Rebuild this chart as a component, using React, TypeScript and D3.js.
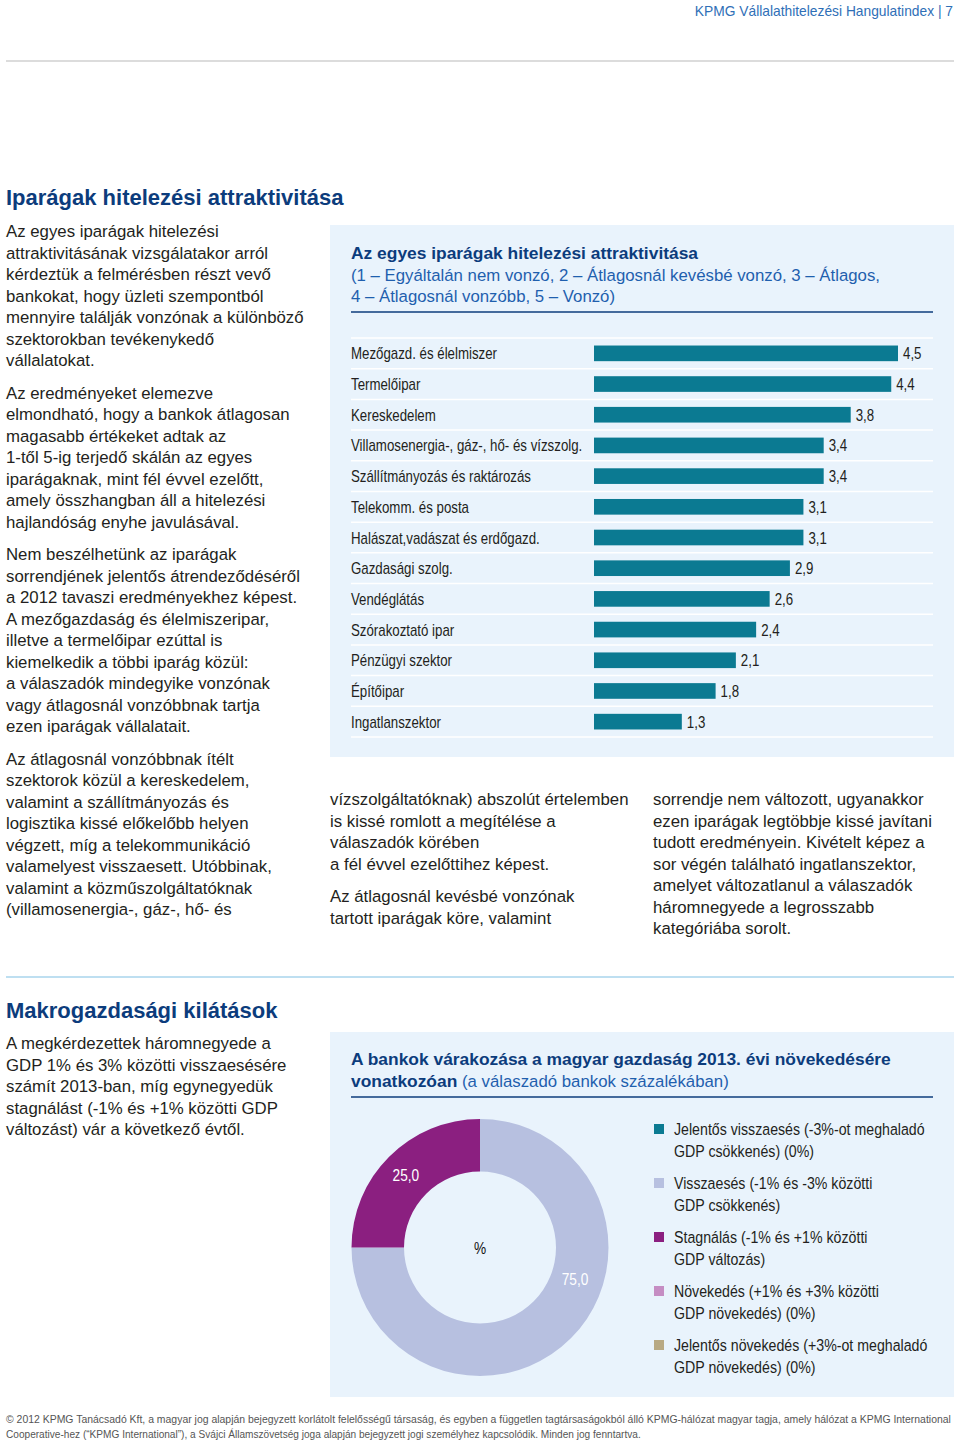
import React from "react";
import * as d3 from "d3";

// ---------- DATA ----------
const headerText = "KPMG Vállalathitelezési Hangulatindex | 7";

const industries = [
  "Mezőgazd. és élelmiszer",
  "Termelőipar",
  "Kereskedelem",
  "Villamosenergia-, gáz-, hő- és vízszolg.",
  "Szállítmányozás és raktározás",
  "Telekomm. és posta",
  "Halászat,vadászat és erdőgazd.",
  "Gazdasági szolg.",
  "Vendéglátás",
  "Szórakoztató ipar",
  "Pénzügyi szektor",
  "Építőipar",
  "Ingatlanszektor",
];
const scores = [4.5, 4.4, 3.8, 3.4, 3.4, 3.1, 3.1, 2.9, 2.6, 2.4, 2.1, 1.8, 1.3];

const chart1Title = "Az egyes iparágak hitelezési attraktivitása";
const chart1Subtitle = [
  "(1 – Egyáltalán nem vonzó, 2 – Átlagosnál kevésbé vonzó, 3 – Átlagos,",
  "4 – Átlagosnál vonzóbb,  5 – Vonzó)",
];

const growthLabels = [
  ["Jelentős visszaesés (-3%-ot meghaladó", "GDP csökkenés) (0%)"],
  ["Visszaesés (-1% és -3% közötti", "GDP csökkenés)"],
  ["Stagnálás (-1% és +1% közötti", "GDP változás)"],
  ["Növekedés (+1% és +3% közötti", "GDP növekedés) (0%)"],
  ["Jelentős növekedés (+3%-ot meghaladó", "GDP növekedés) (0%)"],
];
const growthShares = [0, 75, 25, 0, 0];
const growthColors = ["#0b7a92", "#b7c0e0", "#8b1f80", "#c58dc3", "#b8a983"];

const chart2TitleBold1 = "A bankok várakozása a magyar gazdaság 2013. évi növekedésére";
const chart2TitleBold2 = "vonatkozóan";
const chart2TitleRegular = " (a válaszadó bankok százalékában)";

const section1Title = "Iparágak hitelezési attraktivitása";
const section2Title = "Makrogazdasági kilátások";

const leftParagraphs = [
  [
    "Az egyes iparágak hitelezési",
    "attraktivitásának vizsgálatakor arról",
    "kérdeztük a felmérésben részt vevő",
    "bankokat, hogy üzleti szempontból",
    "mennyire találják vonzónak a különböző",
    "szektorokban tevékenykedő",
    "vállalatokat.",
  ],
  [
    "Az eredményeket elemezve",
    "elmondható, hogy a bankok átlagosan",
    "magasabb értékeket adtak az",
    "1-től 5-ig terjedő skálán az egyes",
    "iparágaknak, mint fél évvel ezelőtt,",
    "amely összhangban áll a hitelezési",
    "hajlandóság enyhe javulásával.",
  ],
  [
    "Nem beszélhetünk az iparágak",
    "sorrendjének jelentős átrendeződéséről",
    "a 2012 tavaszi eredményekhez képest.",
    "A mezőgazdaság és élelmiszeripar,",
    "illetve a termelőipar ezúttal is",
    "kiemelkedik a többi iparág közül:",
    "a válaszadók mindegyike vonzónak",
    "vagy átlagosnál vonzóbbnak tartja",
    "ezen iparágak vállalatait.",
  ],
  [
    "Az átlagosnál vonzóbbnak ítélt",
    "szektorok közül a kereskedelem,",
    "valamint a szállítmányozás és",
    "logisztika kissé előkelőbb helyen",
    "végzett, míg a telekommunikáció",
    "valamelyest visszaesett. Utóbbinak,",
    "valamint a közműszolgáltatóknak",
    "(villamosenergia-, gáz-, hő- és",
  ],
];

const midParagraphs = [
  [
    "vízszolgáltatóknak) abszolút értelemben",
    "is kissé romlott a megítélése a",
    "válaszadók körében",
    "a fél évvel ezelőttihez képest.",
  ],
  ["Az átlagosnál kevésbé vonzónak", "tartott iparágak köre, valamint"],
];

const rightParagraphs = [
  [
    "sorrendje nem változott, ugyanakkor",
    "ezen iparágak legtöbbje kissé javítani",
    "tudott eredményein. Kivételt képez a",
    "sor végén található ingatlanszektor,",
    "amelyet változatlanul a válaszadók",
    "háromnegyede a legrosszabb",
    "kategóriába sorolt.",
  ],
];

const macroParagraphs = [
  [
    "A megkérdezettek háromnegyede a",
    "GDP 1% és 3% közötti visszaesésére",
    "számít 2013-ban, míg egynegyedük",
    "stagnálást (-1% és +1% közötti GDP",
    "változást) vár a következő évtől.",
  ],
];

const footerLines = [
  "© 2012 KPMG Tanácsadó Kft, a magyar jog alapján bejegyzett korlátolt felelősségű társaság, és egyben a független tagtársaságokból álló KPMG-hálózat magyar tagja, amely hálózat a KPMG International",
  "Cooperative-hez (“KPMG International”), a Svájci Államszövetség joga alapján bejegyzett jogi személyhez kapcsolódik. Minden jog fenntartva.",
];
const footerWidths = [946, 636];

// ---------- STYLE ----------
const FONT = "'Liberation Sans', Arial, sans-serif";
const BODY = "#231f20";
const DARK_BLUE = "#0c3c7c";
const MID_BLUE = "#1f5fae";
const PANEL = "#e9f3fc";
const BAR = "#0b7a92";
const LINE_H = 21.5;
const PARA_GAP = 32.5;
const BODY_SIZE = 16.8;

const fmt = (v: number) => d3.format(".1f")(v).replace(".", ",");

let measureCtx: CanvasRenderingContext2D | null = null;
function measure(text: string, size: number): number {
  if (!measureCtx) {
    const c = document.createElement("canvas");
    measureCtx = c.getContext("2d");
  }
  if (!measureCtx) return text.length * size * 0.5;
  measureCtx.font = `${size}px 'Liberation Sans', Arial, sans-serif`;
  return measureCtx.measureText(text).width;
}

function CText({ x, y, sx = 0.83, anchor = "start", size = 16, fill = BODY, children }: any) {
  return (
    <text
      transform={`translate(${x},${y}) scale(${sx},1)`}
      textAnchor={anchor}
      fontSize={size}
      fill={fill}
      fontFamily={FONT}
    >
      {children}
    </text>
  );
}

function Paragraphs({ x, y, paras }: { x: number; y: number; paras: string[][] }) {
  const out: any[] = [];
  let cy = y;
  paras.forEach((p, pi) => {
    if (pi > 0) cy += PARA_GAP - LINE_H;
    p.forEach((line, li) => {
      out.push(
        <text key={`${pi}-${li}`} x={x} y={cy} fontSize={BODY_SIZE} fill={BODY} fontFamily={FONT}>
          {line}
        </text>
      );
      cy += LINE_H;
    });
  });
  return <g>{out}</g>;
}

function BarChart() {
  const x = d3.scaleLinear().domain([0, 4.5]).range([594, 898]);
  const y = d3
    .scaleBand<string>()
    .domain(industries)
    .range([338, 737])
    .paddingInner(0.49)
    .paddingOuter(0.245);
  const step = y.step();
  const top = y.range()[0];
  const seps = d3.range(industries.length + 1).map((i) => top + i * step);
  return (
    <g>
      <rect x={330} y={225} width={624} height={532} fill={PANEL} />
      <text x={351} y={259} fontSize={17.4} fontWeight="bold" fill={DARK_BLUE} fontFamily={FONT}>
        {chart1Title}
      </text>
      {chart1Subtitle.map((s, i) => (
        <text key={i} x={351} y={280.5 + i * LINE_H} fontSize={BODY_SIZE} fill={MID_BLUE} fontFamily={FONT}>
          {s}
        </text>
      ))}
      <line x1={351} x2={933} y1={312} y2={312} stroke={DARK_BLUE} strokeWidth={1.3} />
      {seps.map((s, i) => (
        <line key={i} x1={351} x2={933} y1={s} y2={s} stroke="#ffffff" strokeWidth={1.5} />
      ))}
      {industries.map((d, i) => {
        const yc = (y(d) as number) + y.bandwidth() / 2;
        return (
          <g key={d}>
            <CText x={351} y={yc + 6}>{d}</CText>
            <rect x={x(0)} y={y(d)} width={x(scores[i]) - x(0)} height={y.bandwidth()} fill={BAR} />
            <CText x={x(scores[i]) + 5} y={yc + 6}>{fmt(scores[i])}</CText>
          </g>
        );
      })}
    </g>
  );
}

function Donut() {
  const cx = 480;
  const cy = 1247.5;
  const R = 128.5;
  const r = 76;
  const pie = d3.pie<number>().sort(null).value((d) => d)(growthShares);
  const arc = d3.arc<any>().innerRadius(r).outerRadius(R);
  const labelR = 102;
  return (
    <g>
      <rect x={330} y={1032} width={624} height={365} fill={PANEL} />
      <text x={351} y={1065} fontSize={17.4} fontWeight="bold" fill={DARK_BLUE} fontFamily={FONT}>
        {chart2TitleBold1}
      </text>
      <text x={351} y={1087} fontSize={17.4} fill={MID_BLUE} fontFamily={FONT}>
        <tspan fontWeight="bold" fill={DARK_BLUE}>{chart2TitleBold2}</tspan>
        <tspan fontSize={BODY_SIZE}>{chart2TitleRegular}</tspan>
      </text>
      <line x1={351} x2={933} y1={1097} y2={1097} stroke={DARK_BLUE} strokeWidth={1.3} />
      <g transform={`translate(${cx},${cy})`}>
        {pie.map((p, i) =>
          p.value > 0 ? <path key={i} d={arc(p) as string} fill={growthColors[i]} /> : null
        )}
        {pie.map((p, i) => {
          if (p.value <= 0) return null;
          const span = p.endAngle - p.startAngle;
          const a = p.startAngle + span * (span > Math.PI ? 0.4 : 0.5);
          const lx = labelR * Math.sin(a);
          const ly = -labelR * Math.cos(a);
          return (
            <CText key={`l${i}`} x={lx - 2} y={ly + 6} anchor="middle" fill="#ffffff" size={16.5}>
              {fmt(p.value)}
            </CText>
          );
        })}
        <CText x={0} y={6} anchor="middle" size={16.5} fill="#111">%</CText>
      </g>
      {growthLabels.map((lines, i) => {
        const ty = 1129 + i * 54;
        return (
          <g key={i}>
            <rect x={654} y={ty - 5} width={10} height={10} fill={growthColors[i]} />
            {lines.map((l, j) => (
              <CText key={j} x={674} y={ty + 6 + j * LINE_H} size={16.5} sx={0.86}>
                {l}
              </CText>
            ))}
          </g>
        );
      })}
    </g>
  );
}

export default function App() {
  return (
    <svg
      width={960}
      height={1443}
      style={{ position: "absolute", left: 0, top: 0, background: "#ffffff" }}
    >
      <rect x={0} y={0} width={960} height={1443} fill="#ffffff" />
      <CText x={953} y={16} anchor="end" size={15} sx={0.92} fill="#2f6fb7">
        {headerText}
      </CText>
      <line x1={6} x2={954} y1={61} y2={61} stroke="#dcdcdc" strokeWidth={2} />

      <text x={6} y={205} fontSize={22} fontWeight="bold" fill={DARK_BLUE} fontFamily={FONT}>
        {section1Title}
      </text>
      <Paragraphs x={6} y={237} paras={leftParagraphs} />

      <BarChart />

      <Paragraphs x={330} y={805} paras={midParagraphs} />
      <Paragraphs x={653} y={805} paras={rightParagraphs} />

      <line x1={6} x2={954} y1={977} y2={977} stroke="#a8d5ec" strokeWidth={1.5} />

      <text x={6} y={1018} fontSize={22} fontWeight="bold" fill={DARK_BLUE} fontFamily={FONT}>
        {section2Title}
      </text>
      <Paragraphs x={6} y={1049} paras={macroParagraphs} />

      <Donut />

      {footerLines.map((l, i) => {
        const sx = Math.min(1, footerWidths[i] / measure(l, 11));
        return (
          <CText key={i} x={6} y={1423 + i * 15} size={11} sx={sx} fill="#555555">
            {l}
          </CText>
        );
      })}
    </svg>
  );
}
